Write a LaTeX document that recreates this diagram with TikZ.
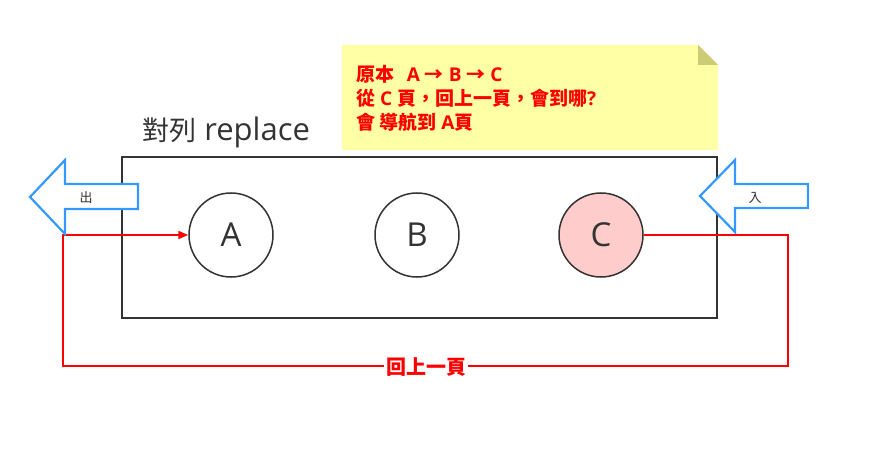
\documentclass[tikz,border=0pt]{standalone}
\usepackage{fontspec}
\setmainfont{Open Sans}
\newfontfamily\cjk{Noto Sans CJK TC}
\usetikzlibrary{arrows.meta}
\definecolor{darkline}{HTML}{333333}
\definecolor{notefill}{HTML}{FFFFA6}
\definecolor{notefold}{HTML}{CCCC77}
\definecolor{cfill}{HTML}{FFCCCC}
\definecolor{bluearrow}{HTML}{3399FF}
\definecolor{redline}{HTML}{FF0000}
\tikzset{
  circnode/.style={circle, draw=darkline, line width=1.5pt, minimum size=84pt, inner sep=0pt, font=\fontsize{33}{34}\selectfont, text=darkline},
  bluearr/.style={draw=bluearrow, line width=2.2pt, fill=white, line join=miter},
  redconn/.style={draw=redline, line width=1.8pt},
}
\begin{document}
\begin{tikzpicture}[x=1pt,y=-1pt]
\useasboundingbox (0,0) rectangle (877,454);
% note
\fill[notefill] (342,45) -- (698,45) -- (718,65) -- (718,150) -- (342,150) -- cycle;
\fill[notefold] (698,45) -- (718,65) -- (698,65) -- cycle;
\node[anchor=north west, align=left, text=redline, font=\bfseries\fontsize{19}{24}\selectfont, inner sep=0pt] (note) at (356,65)
 {{\cjk 原本}\enspace\,A {\cjk →} B {\cjk →} C\\{\cjk 從} C {\cjk 頁，回上一頁，會到哪}?\\{\cjk 會 導航到} A{\cjk 頁}};
% title
\node[anchor=west, text=darkline, font=\fontsize{31}{32}\selectfont, inner sep=0pt] (title) at (142,132) {{\cjk\fontsize{27}{30}\selectfont 對列} replace};
% frame
\draw[darkline, line width=1.8pt] (122,157) rectangle (717,318);
% circles
\node[circnode] (A) at (231,235) {A};
\node[circnode] (B) at (417,235) {B};
\node[circnode, fill=cfill] (C) at (601,235) {C};
% red connector
\coordinate (r1) at (788,235);
\coordinate (r2) at (788,366);
\coordinate (r3) at (63,366);
\coordinate (r4) at (63,235);
\draw[redconn, -{Triangle[length=10pt,width=8pt]}] (C.east) -- (r1) -- (r2) -- (r3) -- (r4) -- (A.west);
\node[fill=white, text=redline, font=\cjk\bfseries\fontsize{20}{22}\selectfont, inner sep=2pt] (back) at (426,367) {回上一頁};
% out arrow
\draw[bluearr] (30,197) -- (65,160) -- (65,184) -- (138,184) -- (138,209) -- (65,209) -- (65,234) -- cycle;
\node[font=\cjk\fontsize{13}{14}\selectfont, text=darkline] (out) at (86,198) {出};
% in arrow
\draw[bluearr] (700,196) -- (735,160) -- (735,184) -- (808,184) -- (808,208) -- (735,208) -- (735,232) -- cycle;
\node[font=\cjk\fontsize{13}{14}\selectfont, text=darkline] (in) at (755,198) {入};
\end{tikzpicture}
\end{document}
